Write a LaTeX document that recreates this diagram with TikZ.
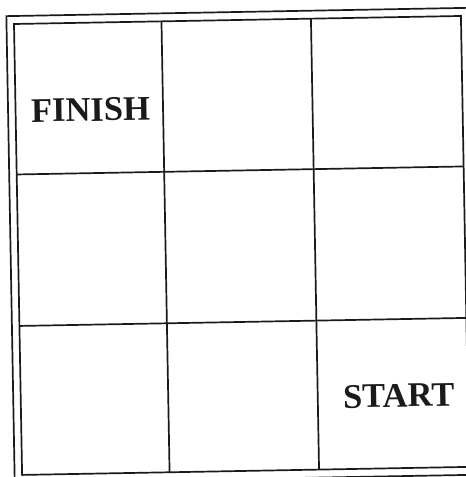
\documentclass[tikz,border=0pt]{standalone}
\usepackage{fontspec}
\setmainfont{Liberation Serif}
\definecolor{ink}{HTML}{1A1A1A}
\begin{document}
\begin{tikzpicture}[x=1pt,y=-1pt,
  gridline/.style={draw=ink,line width=1.7pt},
  label/.style={text=ink,font=\bfseries\fontsize{34.5}{34.5}\selectfont,inner sep=0pt,anchor=base}]
\useasboundingbox[fill=white] (0,0) rectangle (466,477);
\begin{scope}[shift={(14,24)},rotate=1.03,transform shape]
  \draw[gridline] (-7.5,-8) rectangle (454.5,459);
  \draw[gridline] (0,0) rectangle (447,451);
  \draw[gridline] (147.5,0) -- (147.5,451);
  \draw[gridline] (297,0) -- (297,451);
  \draw[gridline] (0,150.5) -- (447,150.5);
  \draw[gridline] (0,302) -- (447,302);
  \node[label] (finish) at (75,98.4) {FINISH};
  \node[label] (start) at (378,390) {START};
\end{scope}
\end{tikzpicture}
\end{document}
